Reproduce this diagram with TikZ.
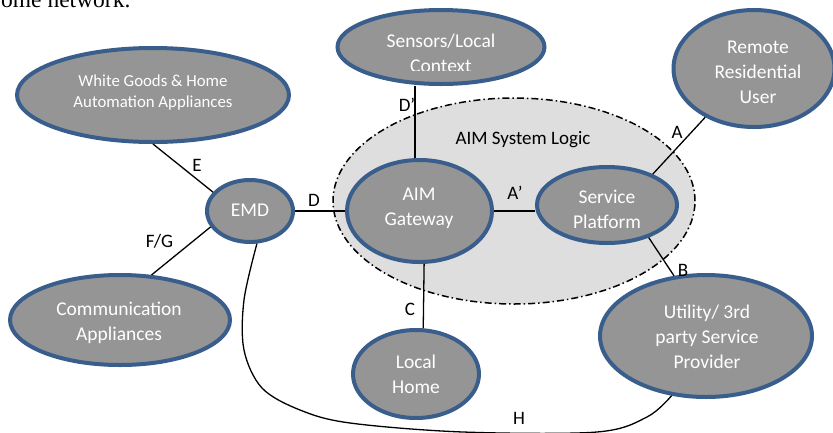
\documentclass[tikz,border=0pt]{standalone}
\usepackage{fontspec}
\setmainfont{Carlito}
\newfontfamily\serifdoc{Liberation Serif}
\usetikzlibrary{shapes.geometric}
\definecolor{bordercol}{RGB}{58,94,140}
\definecolor{fillcol}{RGB}{149,149,149}
\definecolor{logiccol}{RGB}{222,222,222}
\newcommand{\mlines}[1]{\begin{tabular}[t]{@{}c@{}}#1\end{tabular}}
\begin{document}
\begin{tikzpicture}[x=1pt,y=-1pt,
  ell/.style={ellipse, draw=bordercol, fill=fillcol, line width=4pt, inner sep=0pt},
  txt/.style={text=white, anchor=base, inner sep=0pt, font=\fontsize{19.5}{25}\selectfont},
  txtsmall/.style={text=white, anchor=base, inner sep=0pt, font=\fontsize{16.8}{21}\selectfont},
  lab/.style={text=black, inner sep=0pt, font=\fontsize{19}{23}\selectfont},
  conn/.style={line width=1.3pt, black},
  logic/.style={ellipse, draw=black, fill=logiccol, line width=1.5pt,
    dash pattern=on 7pt off 3pt on 1.5pt off 3pt, inner sep=0pt}]
\useasboundingbox (0,0) rectangle (833,432);
\clip (0,0) rectangle (833,432);
\fill[white] (0,0) rectangle (833,432);

% partial text line from the page
\node[anchor=base west, inner sep=0pt, font=\serifdoc\fontsize{23.5}{28}\selectfont] (pagetext) at (1,7) {ome network.};

% background logic area
\node[logic, minimum width=362pt, minimum height=206pt] (logic) at (514,201) {};
\node[lab, anchor=base] (logiclab) at (523,144) {AIM System Logic};

% ellipses
\node[ell, minimum width=272pt, minimum height=94pt] (wg) at (153,95) {};
\node[ell, minimum width=207pt, minimum height=74pt] (sensors) at (441,47) {};
\node[ell, minimum width=161pt, minimum height=117pt] (remote) at (754,68.5) {};
\node[ell, minimum width=86pt, minimum height=62pt] (emd) at (250,211) {};
\node[ell, minimum width=145pt, minimum height=102pt] (gw) at (419.5,211) {};
\node[ell, minimum width=140pt, minimum height=76pt] (sp) at (607,205) {};
\node[ell, minimum width=220pt, minimum height=90pt] (comm) at (120,320) {};
\node[ell, minimum width=126pt, minimum height=88pt] (lh) at (416,374) {};
\node[ell, minimum width=212pt, minimum height=122pt] (util) at (706,336) {};

% texts
\node[txtsmall] (wgtxt) at (153,86) {\mlines{White Goods \& Home\\Automation Appliances}};
\begin{scope}
\clip (330,0) rectangle (550,70.5);
\node[txt] (sensorstxt) at (441,47) {\mlines{Sensors/Local\\Context}};
\end{scope}
\node[txt] (remotetxt) at (758,53) {\mlines{Remote\\Residential\\User}};
\node[txt] (emdtxt) at (250,216) {EMD};
\node[txt] (gwtxt) at (419,200) {\mlines{AIM\\Gateway}};
\node[txt] (sptxt) at (607,203) {\mlines{Service\\Platform}};
\node[txt] (commtxt) at (119,315) {\mlines{Communication\\Appliances}};
\node[txt] (lhtxt) at (416,368) {\mlines{Local\\Home}};
\node[txt] (utiltxt) at (707,318) {\mlines{Utility/ 3rd\\party Service\\Provider}};

% connectors
\draw[conn] (wg.south) -- (emd.153);
\draw[conn] (emd.east) -- (gw.west);
\draw[conn] (emd.202) -- (comm.55);
\draw[conn] (gw.95) -- (gw.95 |- sensors.south);
\draw[conn] (gw.east) -- (gw.east -| sp.west);
\draw[conn] (sp.34) -- (remote.225);
\draw[conn] (sp.322) -- (util.118);
\draw[conn] (gw.275) -- (lh.81);
\draw[conn] plot[smooth, tension=0.55] coordinates {(emd.282) (244,300) (244,350) (262,388) (300,410) (350,423) (463,432) (597,432) (647,417) (util.240)};

% labels
\node[lab] (labE) at (197,165.5) {E};
\node[lab] (labD) at (314,200) {D};
\node[lab] (labDp) at (407,105) {D’};
\node[lab] (labA) at (677,132) {A};
\node[lab] (labAp) at (515,193) {A’};
\node[lab] (labFG) at (159.5,241) {F/G};
\node[lab] (labC) at (410,309.5) {C};
\node[lab] (labB) at (683,270) {B};
\node[lab] (labH) at (519,418) {H};
\end{tikzpicture}
\end{document}
